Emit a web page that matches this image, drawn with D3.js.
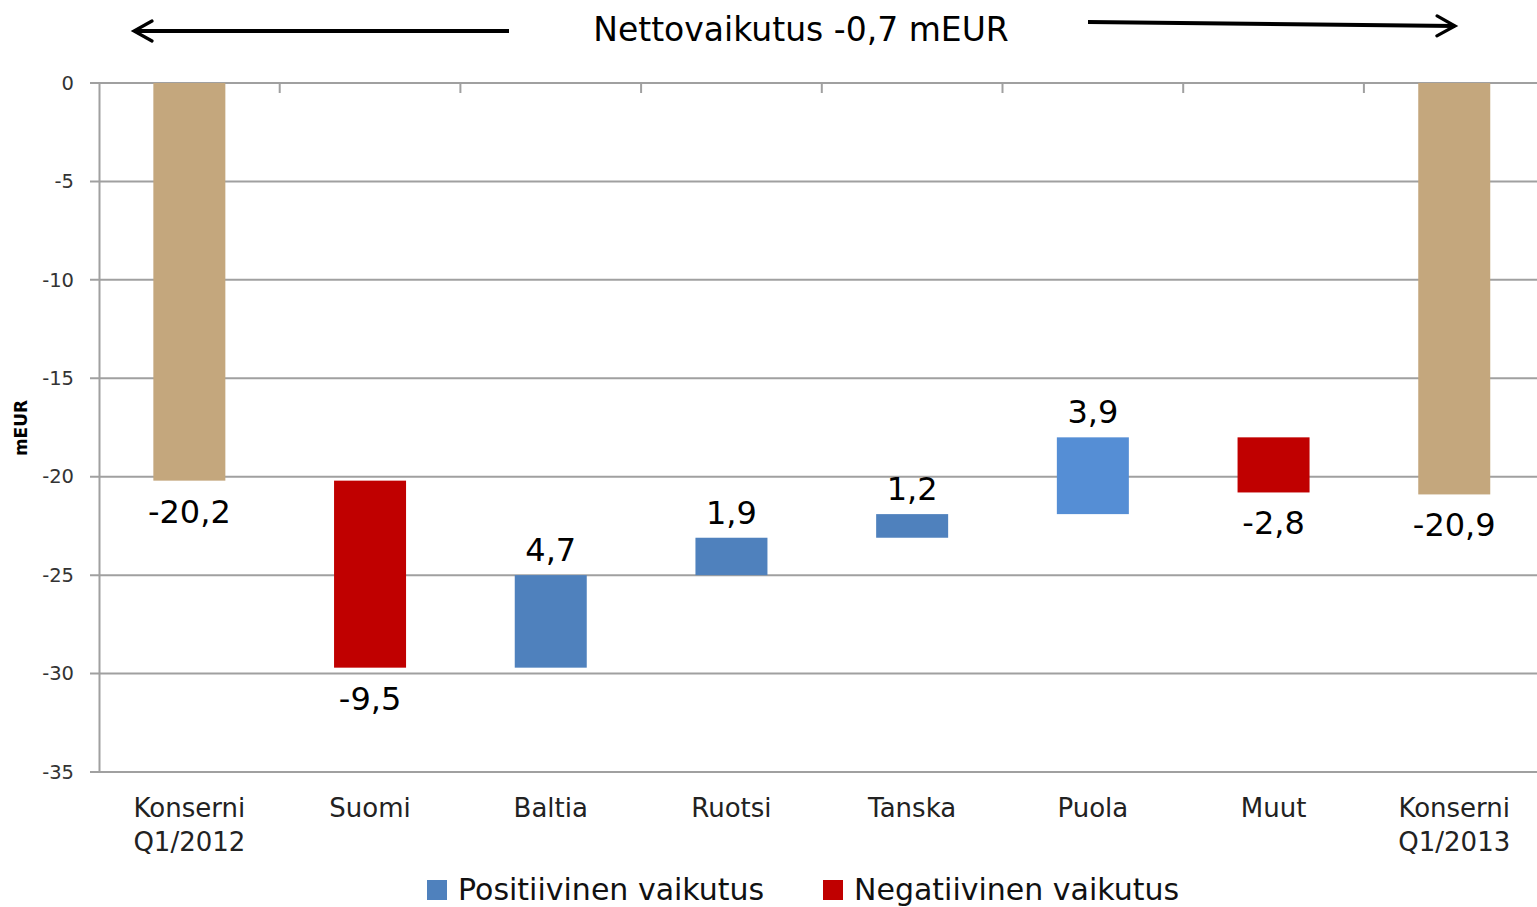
<!DOCTYPE html>
<html>
<head>
<meta charset="utf-8">
<script src="https://cdn.jsdelivr.net/npm/d3@7"></script>
<style>
  body { margin: 0; background: #fff; }
  svg { display: block; font-family: "DejaVu Sans", sans-serif; }
</style>
</head>
<body>
<div id="chart"></div>
<script>
//Datos
const categories = ['Konserni\nQ1/2012', 'Suomi', 'Baltia', 'Ruotsi', 'Tanska', 'Puola', 'Muut', 'Konserni\nQ1/2013'];
const changes = [-20.2, -9.5, 4.7, 1.9, 1.2, 3.9, -2.8, -20.9];
const kinds = ['total', 'neg', 'pos', 'pos', 'pos', 'pos', 'neg', 'total'];
const yTicks = [0, -5, -10, -15, -20, -25, -30, -35];
const legendItems = ['Positiivinen vaikutus', 'Negatiivinen vaikutus'];
const title = 'Nettovaikutus -0,7 mEUR';

//Colores
const COLOR_TOTAL = '#C4A77D',
  COLOR_POS = '#4F81BD',
  COLOR_POS_2 = '#558ED5',
  COLOR_NEG = '#C00000',
  COLOR_GRID = '#A0A0A0';

let width = 1537, height = 907;

let svg = d3.select('#chart')
  .append('svg')
    .attr('width', width)
    .attr('height', height);

//Barras flotantes
let running = 0;
let bars = changes.map(function(v, i) {
  let b;
  if (kinds[i] == 'total') {
    b = { y0: 0, y1: v };
    running = v;
  } else {
    b = { y0: running, y1: running + v };
    running = running + v;
  }
  b.value = v;
  b.kind = kinds[i];
  b.cat = categories[i];
  return b;
});

let x = d3.scaleBand()
  .domain(categories)
  .range([99, 99 + 8 * 180.7]);

let y = d3.scaleLinear()
  .domain([0, -35])
  .range([83, 772]);

//Rejilla
svg.append('g')
  .selectAll('line')
  .data(yTicks)
  .enter()
  .append('line')
    .attr('x1', 90)
    .attr('x2', width)
    .attr('y1', function(d) { return y(d); })
    .attr('y2', function(d) { return y(d); })
    .attr('stroke', COLOR_GRID)
    .attr('stroke-width', 2);

//Eje Y
let yAxis = svg.append('g')
  .attr('transform', 'translate(99,0)')
  .call(d3.axisLeft(y).tickValues(yTicks).tickSize(0).tickPadding(25)
    .tickFormat(function(d) { return String(d); }));
yAxis.select('.domain').attr('stroke', COLOR_GRID).attr('stroke-width', 2);
yAxis.selectAll('text')
  .attr('font-size', 19.5)
  .attr('fill', '#333')
  .attr('font-family', '"DejaVu Sans", sans-serif');

svg.append('text')
  .attr('transform', 'translate(27,428) rotate(-90)')
  .attr('text-anchor', 'middle')
  .attr('font-size', 17)
  .attr('font-weight', 'bold')
  .text('mEUR');

//Marcas del eje de categorías (arriba)
svg.append('g')
  .selectAll('line')
  .data(categories.slice(1))
  .enter()
  .append('line')
    .attr('x1', function(d) { return x(d); })
    .attr('x2', function(d) { return x(d); })
    .attr('y1', y(0))
    .attr('y2', y(0) + 10)
    .attr('stroke', COLOR_GRID)
    .attr('stroke-width', 2);

//Barras
let bw = 72;
svg.append('g')
  .selectAll('rect')
  .data(bars)
  .enter()
  .append('rect')
    .attr('x', function(d) { return x(d.cat) + x.bandwidth() / 2 - bw / 2; })
    .attr('y', function(d) { return y(Math.max(d.y0, d.y1)); })
    .attr('width', bw)
    .attr('height', function(d) { return Math.abs(y(d.y1) - y(d.y0)); })
    .attr('fill', function(d, i) {
      if (d.kind == 'total') return COLOR_TOTAL;
      if (d.kind == 'neg') return COLOR_NEG;
      return d.cat == 'Puola' ? COLOR_POS_2 : COLOR_POS;
    });

//Etiquetas de valores
svg.append('g')
  .selectAll('text')
  .data(bars)
  .enter()
  .append('text')
    .attr('x', function(d) { return x(d.cat) + x.bandwidth() / 2; })
    .attr('y', function(d) {
      if (d.value < 0) return y(Math.min(d.y0, d.y1)) + 42;
      return y(Math.max(d.y0, d.y1)) - 14;
    })
    .attr('text-anchor', 'middle')
    .attr('font-size', 32)
    .attr('fill', '#000')
    .text(function(d) { return String(d.value).replace('.', ','); });

//Etiquetas de categorías
let catLabels = svg.append('g')
  .selectAll('text')
  .data(categories)
  .enter()
  .append('text')
    .attr('x', function(d) { return x(d) + x.bandwidth() / 2; })
    .attr('y', 817)
    .attr('text-anchor', 'middle')
    .attr('font-size', 26)
    .attr('fill', '#222');
catLabels.each(function(d) {
  let t = d3.select(this);
  d.split('\n').forEach(function(line, i) {
    t.append('tspan')
      .attr('x', x(d) + x.bandwidth() / 2)
      .attr('dy', i == 0 ? 0 : 34)
      .text(line);
  });
});

//Título y flechas
svg.append('defs').append('marker')
  .attr('id', 'arrow')
  .attr('viewBox', '0 0 12 12')
  .attr('refX', 10)
  .attr('refY', 6)
  .attr('markerWidth', 6)
  .attr('markerHeight', 6)
  .attr('markerUnits', 'strokeWidth')
  .attr('orient', 'auto')
  .append('path')
    .attr('d', 'M1,1 L10,6 L1,11')
    .attr('fill', 'none')
    .attr('stroke', '#000')
    .attr('stroke-width', 1.6)
    .attr('stroke-linecap', 'round');

svg.append('line')
  .attr('x1', 509).attr('y1', 31)
  .attr('x2', 134).attr('y2', 31)
  .attr('stroke', '#000').attr('stroke-width', 4)
  .attr('marker-end', 'url(#arrow)');

svg.append('line')
  .attr('x1', 1088).attr('y1', 22)
  .attr('x2', 1455).attr('y2', 26)
  .attr('stroke', '#000').attr('stroke-width', 4)
  .attr('marker-end', 'url(#arrow)');

svg.append('text')
  .attr('x', 801)
  .attr('y', 41)
  .attr('text-anchor', 'middle')
  .attr('font-size', 33)
  .attr('fill', '#000')
  .text(title);

//Leyenda
let legendColors = [COLOR_POS, COLOR_NEG];
let legendX = [427, 823];
let legend = svg.append('g')
  .selectAll('g')
  .data(legendItems)
  .enter()
  .append('g')
    .attr('transform', function(d, i) { return 'translate(' + legendX[i] + ',880)'; });
legend.append('rect')
  .attr('width', 20)
  .attr('height', 20)
  .attr('fill', function(d, i) { return legendColors[i]; });
legend.append('text')
  .attr('x', 31)
  .attr('y', 20)
  .attr('font-size', 30)
  .attr('fill', '#111')
  .text(function(d) { return d; });
</script>
</body>
</html>
